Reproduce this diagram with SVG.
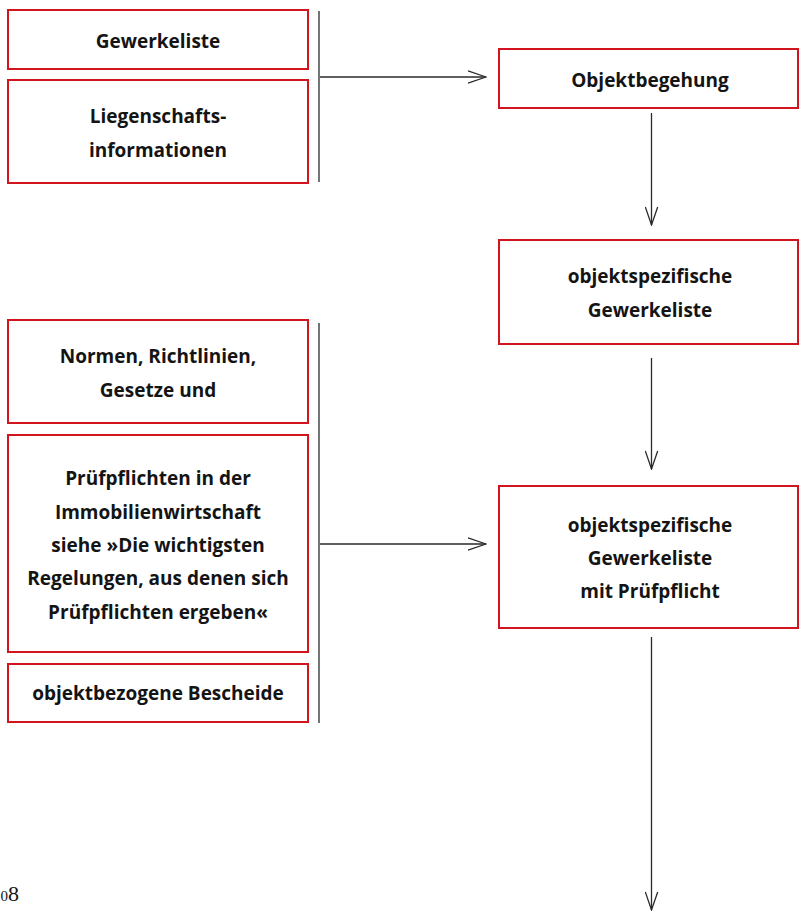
<svg xmlns="http://www.w3.org/2000/svg" width="799" height="911" viewBox="0 0 799 911">
  <defs>
    <style>
      .box { fill: #ffffff; stroke: #d2141e; stroke-width: 2; }
      .lbl { font-family: "Open Sans", "Noto Sans", "DejaVu Sans", sans-serif; font-weight: 700; font-size: 19px; fill: #141414; text-anchor: middle; }
      .wire { fill: none; stroke: #2a2a2a; stroke-width: 1.3; }
      .folio { font-family: "Liberation Serif", serif; font-size: 22px; fill: #141414; }
    </style>
    <marker id="open-arrow" viewBox="0 0 20 14" refX="19" refY="7" markerWidth="20" markerHeight="14" markerUnits="userSpaceOnUse" orient="auto">
      <path d="M1,0.8 L19,7 L1,13.2" fill="none" stroke="#2a2a2a" stroke-width="1.3"/>
    </marker>
  </defs>

  <g id="connectors">
    <!-- brackets beside the two input stacks -->
    <line class="wire" x1="319" y1="11" x2="319" y2="182"/>
    <line class="wire" x1="319" y1="323" x2="319" y2="723"/>
    <!-- inputs to process steps -->
    <line class="wire" x1="320" y1="77" x2="486" y2="77" marker-end="url(#open-arrow)"/>
    <line class="wire" x1="320" y1="544" x2="486" y2="544" marker-end="url(#open-arrow)"/>
    <!-- main flow downwards -->
    <line class="wire" x1="651.5" y1="113" x2="651.5" y2="225" marker-end="url(#open-arrow)"/>
    <line class="wire" x1="651.5" y1="358" x2="651.5" y2="469" marker-end="url(#open-arrow)"/>
    <line class="wire" x1="651.5" y1="637" x2="651.5" y2="910" marker-end="url(#open-arrow)"/>
  </g>

  <g id="gewerkeliste">
    <rect class="box" x="8" y="10" width="300" height="59"/>
    <text class="lbl" x="158" y="48">Gewerkeliste</text>
  </g>

  <g id="liegenschaftsinformationen">
    <rect class="box" x="8" y="80" width="300" height="103"/>
    <text class="lbl" x="158" y="123">Liegenschafts-</text>
    <text class="lbl" x="158" y="156.5">informationen</text>
  </g>

  <g id="objektbegehung">
    <rect class="box" x="499" y="49" width="299" height="59"/>
    <text class="lbl" x="650" y="86.5">Objektbegehung</text>
  </g>

  <g id="objektspezifische-gewerkeliste">
    <rect class="box" x="499" y="240" width="299" height="104"/>
    <text class="lbl" x="650" y="283">objektspezifische</text>
    <text class="lbl" x="650" y="316.5">Gewerkeliste</text>
  </g>

  <g id="normen">
    <rect class="box" x="8" y="320" width="300" height="103"/>
    <text class="lbl" x="158" y="363">Normen, Richtlinien,</text>
    <text class="lbl" x="158" y="396.5">Gesetze und</text>
  </g>

  <g id="pruefpflichten">
    <rect class="box" x="8" y="435" width="300" height="217"/>
    <text class="lbl" x="158" y="485">Prüfpflichten in der</text>
    <text class="lbl" x="158" y="518.5">Immobilienwirtschaft</text>
    <text class="lbl" x="158" y="552">siehe »Die wichtigsten</text>
    <text class="lbl" x="158" y="585">Regelungen, aus denen sich</text>
    <text class="lbl" x="158" y="618.5">Prüfpflichten ergeben«</text>
  </g>

  <g id="bescheide">
    <rect class="box" x="8" y="664" width="300" height="58"/>
    <text class="lbl" x="158" y="700">objektbezogene Bescheide</text>
  </g>

  <g id="gewerkeliste-mit-pruefpflicht">
    <rect class="box" x="499" y="486" width="299" height="142"/>
    <text class="lbl" x="650" y="531.5">objektspezifische</text>
    <text class="lbl" x="650" y="565">Gewerkeliste</text>
    <text class="lbl" x="650" y="598">mit Prüfpflicht</text>
  </g>

  <!-- page folio in the bottom-left corner -->
  <text class="folio" x="0.5" y="901"><tspan font-size="15">0</tspan>8</text>
</svg>
